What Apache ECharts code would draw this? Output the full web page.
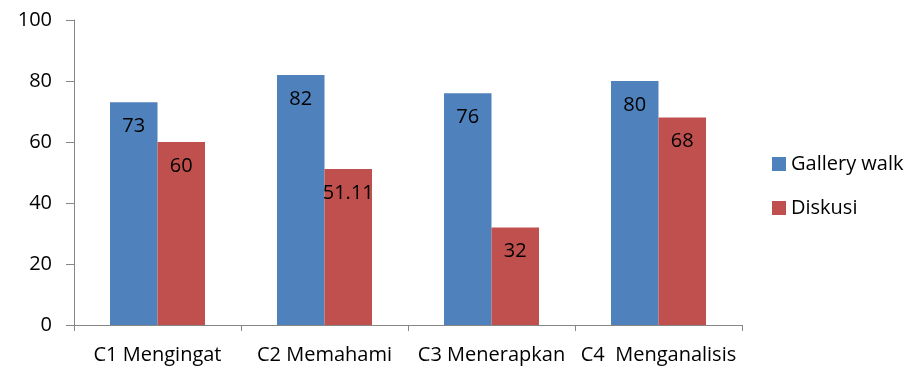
<!DOCTYPE html>
<html>
<head>
    <meta charset="UTF-8">
    <title></title>
    <style>body{margin:0;}</style>
</head>
<body>
<div id="main" style="width: 914px;height:370px;"></div>
<script type="text/javascript" src="https://cdn.jsdelivr.net/npm/echarts@6/dist/echarts.min.js"></script>
<script type="text/javascript">
    var categories = ['C1 Mengingat', 'C2 Memahami', 'C3 Menerapkan', 'C4  Menganalisis'];
    var galleryWalk = [73, 82, 76, 80];
    var diskusi = [60, 51.11, 32, 68];
    var yTicks = {min: 0, max: 100, interval: 20};

    var font = '"Open Sans", sans-serif';
    var myChart = echarts.init(document.getElementById('main'));
    var option = {
        animation: false,
        color: ['#4F81BD', '#C0504D'],
        textStyle: {fontFamily: font},
        grid: {left: 74, right: 172, top: 20, bottom: 45},
        legend: {
            orient: 'vertical',
            left: 767,
            top: 149,
            icon: 'rect',
            itemWidth: 14,
            itemHeight: 14,
            itemGap: 24,
            textStyle: {fontSize: 20, color: '#000', fontFamily: font},
            data: ['Gallery walk', 'Diskusi']
        },
        xAxis: {
            type: 'category',
            data: categories,
            axisLine: {lineStyle: {color: '#868686', width: 1}},
            axisTick: {show: true, length: 6, lineStyle: {color: '#868686'}},
            axisLabel: {interval: 0, fontSize: 20, color: '#000', margin: 20}
        },
        yAxis: {
            type: 'value',
            min: yTicks.min,
            max: yTicks.max,
            interval: yTicks.interval,
            splitLine: {show: false},
            axisLine: {show: true, lineStyle: {color: '#868686', width: 1}},
            axisTick: {show: true, length: 8, lineStyle: {color: '#868686'}},
            axisLabel: {fontSize: 20, color: '#000', margin: 22}
        },
        series: [
            {
                name: 'Gallery walk',
                type: 'bar',
                barWidth: 47.5,
                barGap: '0%',
                data: galleryWalk,
                label: {show: true, position: 'insideTop', distance: 14, fontSize: 20, color: '#000'}
            },
            {
                name: 'Diskusi',
                type: 'bar',
                barWidth: 47.5,
                barGap: '0%',
                data: diskusi,
                label: {show: true, position: 'insideTop', distance: 14, fontSize: 20, color: '#000'}
            }
        ]
    };
    myChart.setOption(option);
</script>
</body>
</html>
